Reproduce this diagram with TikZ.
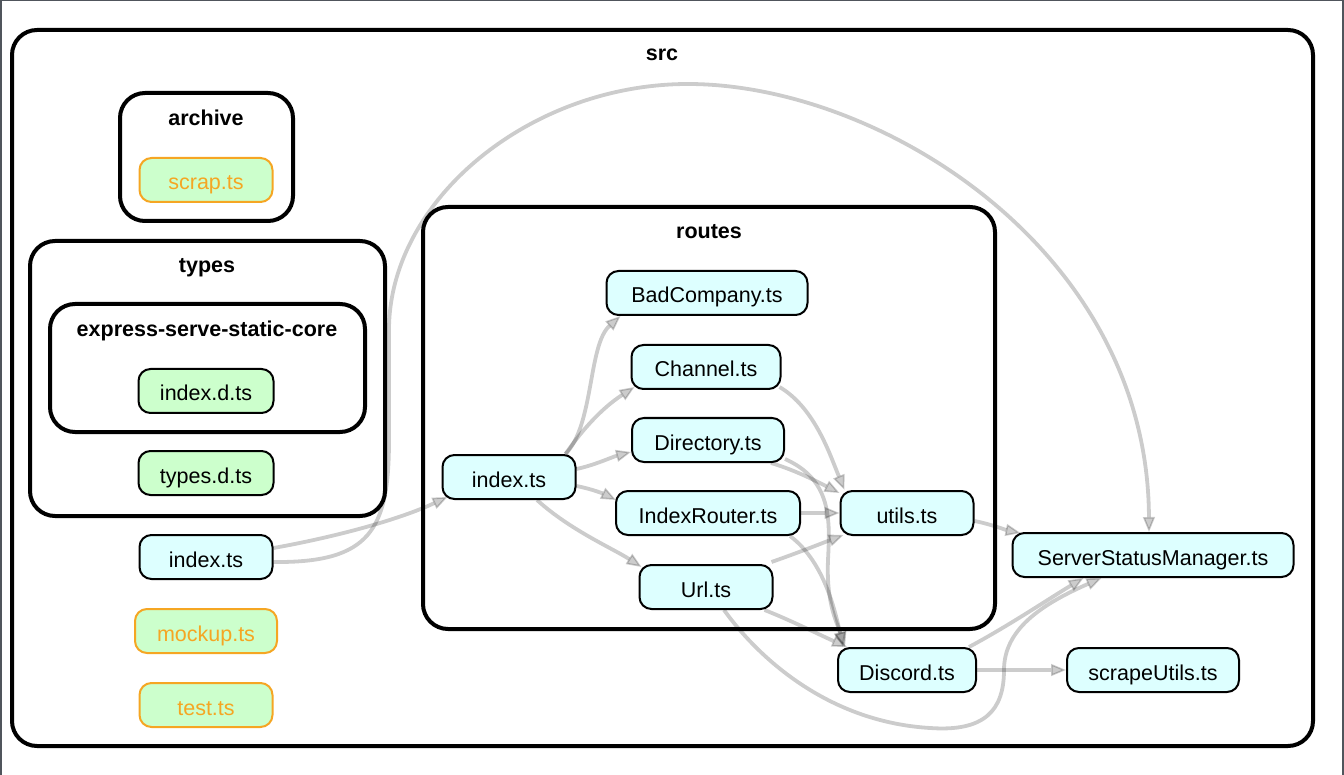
\documentclass[tikz,border=0pt]{standalone}
\usepackage{fontspec}
\setmainfont{Liberation Sans}
\usetikzlibrary{arrows.meta,calc}
\definecolor{filecyan}{HTML}{DDFFFF}
\definecolor{filegreen}{HTML}{CCFFCC}
\definecolor{orphan}{HTML}{F5A623}
\definecolor{framegray}{HTML}{50555C}
\pgfdeclarelayer{clusters}
\pgfdeclarelayer{edges}
\pgfsetlayers{clusters,edges,main}

\begin{document}
\begin{tikzpicture}[x=1pt,y=-1pt,
  every node/.style={font=\fontsize{21.5}{26}\selectfont},
  file/.style={draw=black, line width=2pt, rounded corners=12pt, fill=filecyan,
               minimum height=44pt, inner sep=0pt, text height=20pt, text depth=0pt},
  typedef/.style={file, fill=filegreen},
  orphanfile/.style={file, fill=filegreen, draw=orphan, text=orphan},
  cluster/.style={draw=black, line width=4pt, rounded corners=25pt},
  clustertitle/.style={font=\fontsize{21.5}{26}\selectfont\bfseries, inner sep=0pt,
                       text height=20pt, text depth=0pt},
  dep/.style={draw=black, draw opacity=0.2, fill opacity=0.2, line width=3.8pt,
              -{Triangle[length=15pt, width=12pt, line width=1.6pt]}},
]
\useasboundingbox (0,0) rectangle (1344,775);

% window frame
\draw[framegray, line width=1.5pt] (1,775) -- (1,0.75) -- (1343,0.75) -- (1343,775);

% ---------- files ----------
\node[orphanfile, minimum width=133pt] (scrap) at (206,180) {scrap.ts};
\node[typedef, minimum width=135pt] (indexd) at (206,391) {index.d.ts};
\node[typedef, minimum width=135pt] (typesd) at (206,473) {types.d.ts};
\node[file, minimum width=133pt] (oidx) at (206,557) {index.ts};
\node[orphanfile, minimum width=142pt] (mockup) at (206,631) {mockup.ts};
\node[orphanfile, minimum width=133pt] (test) at (206,705) {test.ts};

\node[file, minimum width=201pt] (bad) at (707,293) {BadCompany.ts};
\node[file, minimum width=149pt] (chan) at (706,367) {Channel.ts};
\node[file, minimum width=152pt] (dir) at (708,440) {Directory.ts};
\node[file, minimum width=133pt] (ridx) at (509,477) {index.ts};
\node[file, minimum width=184pt] (irouter) at (708,513) {IndexRouter.ts};
\node[file, minimum width=133pt] (utils) at (907,513) {utils.ts};
\node[file, minimum width=133pt] (url) at (706,587) {Url.ts};
\node[file, minimum width=281pt] (ssm) at (1153,555) {ServerStatusManager.ts};
\node[file, minimum width=138pt] (disc) at (907,670) {Discord.ts};
\node[file, minimum width=172pt] (scrape) at (1153,670) {scrapeUtils.ts};

% ---------- folders ----------
\begin{pgfonlayer}{clusters}
  \draw[cluster] (12,30) rectangle (1313,746);
  \draw[cluster] (120,93) rectangle (293,221);
  \draw[cluster] (30,241) rectangle (385,516);
  \draw[cluster] (50,304) rectangle (365,432);
  \draw[cluster] (423,207) rectangle (995,629);
\end{pgfonlayer}
\node[clustertitle] (tsrc) at (662,51) {src};
\node[clustertitle] (tarchive) at (206,116) {archive};
\node[clustertitle] (ttypes) at (207,263) {types};
\node[clustertitle] (tesc) at (207,327) {express-serve-static-core};
\node[clustertitle] (troutes) at (709,229) {routes};

% ---------- dependencies ----------
\begin{pgfonlayer}{edges}
  % src/index.ts
  \draw[dep] ($(oidx.east)+(0,-9)$) .. controls (335,537) and (398,520) .. ($(ridx.south west)+(6,-3)$);
  \draw[dep] ($(oidx.east)+(0,5)$) .. controls (370,563) and (389,530) .. (389,440)
        -- (389,330) .. controls (389,200) and (530,84) .. (688,84)
        .. controls (880,84) and (1148,250) .. ($(ssm.north)+(-4,0)$);

  % routes/index.ts
  \draw[dep] ($(ridx.north east)+(-11,0)$) .. controls (594,425) and (588,345) .. ($(bad.south west)+(15,0)$);
  \draw[dep] ($(ridx.north east)+(-11,0)$) .. controls (582,430) and (602,408) .. ($(chan.south west)+(4,-3)$);
  \draw[dep] ($(ridx.east)+(0,-8)$) .. controls (595,465) and (612,457) .. ($(dir.west)+(0,12)$);
  \draw[dep] ($(ridx.east)+(0,9)$) .. controls (592,489) and (604,494) .. ($(irouter.west)+(1,-13)$);
  \draw[dep] ($(ridx.south)+(28,0)$) .. controls (570,530) and (612,548) .. ($(url.north west)+(3,3)$);

  % routes/*.ts
  \draw[dep] ($(chan.south east)+(-2,-3)$) .. controls (815,408) and (830,455) .. ($(utils.north west)+(5,0)$);
  \draw[dep] ($(dir.south east)+(-14,0)$) .. controls (795,470) and (818,482) .. ($(utils.north west)+(0,3)$);
  \draw[dep] ($(dir.south east)+(0,-4)$) .. controls (832,480) and (830,520) .. (828,560)
        .. controls (826,605) and (838,625) .. ($(disc.north west)+(8,0)$);
  \draw[dep] (irouter.east) -- (utils.west);
  \draw[dep] ($(irouter.south east)+(-11,0)$) .. controls (822,560) and (834,605) .. ($(disc.north west)+(6,0)$);
  \draw[dep] ($(url.north east)+(-2,-2)$) .. controls (800,552) and (820,544) .. ($(utils.south west)+(4,-1)$);
  \draw[dep] ($(url.south east)+(-9,0)$) .. controls (790,620) and (820,635) .. ($(disc.north west)+(10,0)$);
  \draw[dep] ($(url.south)+(18,0)$) .. controls (760,660) and (830,722) .. (930,728)
        .. controls (985,732) and (1004,710) .. (1004,670)
        .. controls (1004,630) and (1040,605) .. ($(ssm.south west)+(90,0)$);

  % utils.ts, Discord.ts
  \draw[dep] ($(utils.east)+(0,8)$) .. controls (990,524) and (1006,530) .. ($(ssm.north west)+(9,1)$);
  \draw[dep] ($(disc.north east)+(-8,0)$) .. controls (1010,625) and (1050,598) .. ($(ssm.south west)+(72,0)$);
  \draw[dep] (disc.east) -- (scrape.west);
\end{pgfonlayer}
\end{tikzpicture}
\end{document}
